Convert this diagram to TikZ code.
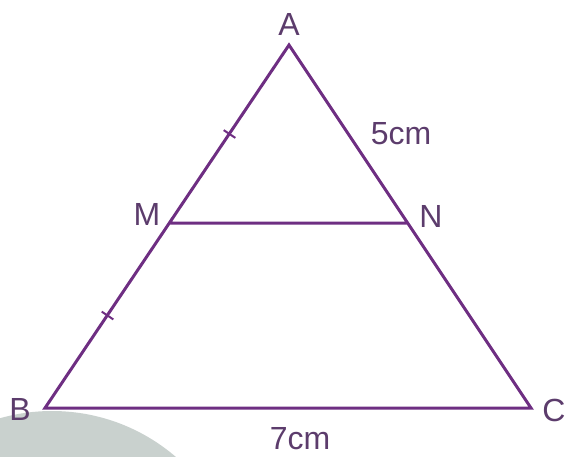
\documentclass[tikz,border=0pt]{standalone}
\usepackage{fontspec}
\setmainfont{Liberation Sans}
\usetikzlibrary{calc}
\definecolor{edgepurple}{HTML}{6E2E82}
\definecolor{labelpurple}{HTML}{5C3C6C}
\definecolor{shadegray}{HTML}{C9D1CE}
\tikzset{side/.style={draw=edgepurple,line width=3pt,line join=miter},
 lbl/.style={text=labelpurple,font=\fontsize{32}{36}\selectfont,inner sep=0pt}}

\begin{document}
\begin{tikzpicture}[x=1pt,y=-1pt]
 \useasboundingbox (0,0) rectangle (570,456);
 \begin{scope}\clip (0,0) rectangle (570,456);\fill[shadegray] (52,411+190) circle (190);\end{scope}
 \coordinate (A) at (289,45);\coordinate (B) at (45,408);\coordinate (C) at (531,408);
 \coordinate (M) at (170,223);\coordinate (N) at (408,223);
 \draw[side] (A)--(B)--(C)--cycle (M)--(N);
 % equal marks on AM and MB
 \foreach \p/\q in {A/M,M/B}{\coordinate (t) at ($(\p)!.5!(\q)$);
  \draw[edgepurple,line width=2pt] ($(t)!7pt!90:(\q)$)--($(t)!7pt!-90:(\q)$);}
 \node[lbl] (lA) at (289,24) {A};\node[lbl] (lB) at (20,409) {B};\node[lbl] (lC) at (554,410) {C};
 \node[lbl] (lM) at (147,214) {M};\node[lbl] (lN) at (431,216) {N};
 \node[lbl] (lAN) at (401,134) {5cm};\node[lbl] (lBC) at (300,439) {7cm};
\end{tikzpicture}
\end{document}
